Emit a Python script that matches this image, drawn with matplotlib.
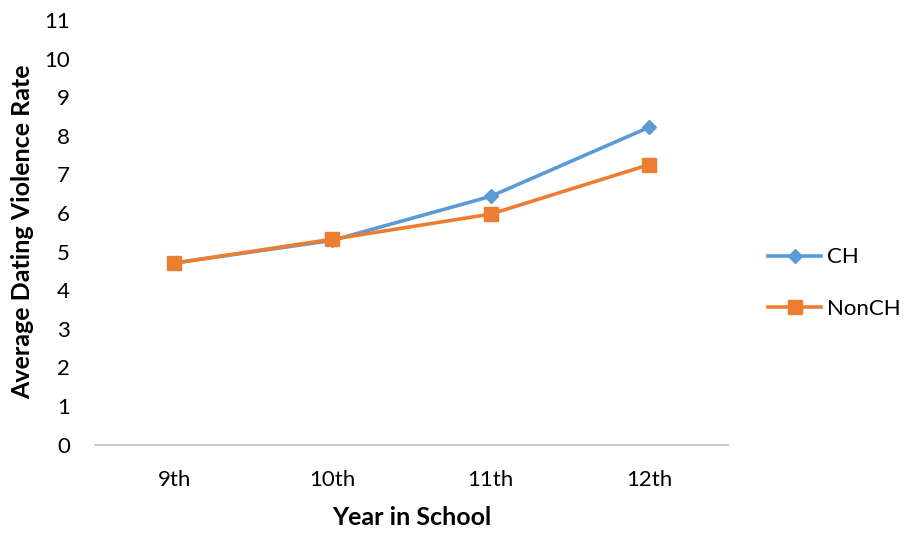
import matplotlib.pyplot as plt

years = ["9th", "10th", "11th", "12th"]
ch = [4.70, 5.29, 6.43, 8.22]
non_ch = [4.70, 5.32, 5.97, 7.25]

plt.rcParams['font.family'] = ['Lato', 'DejaVu Sans']

fig = plt.figure(figsize=(9.09, 5.36), dpi=100)
ax = fig.add_axes([0.1045, 0.1707, 0.6965, 0.792])

x = range(len(years))
ax.plot(x, ch, color='#5B9BD5', lw=2.6, marker='D', markersize=7.5, label='CH')
ax.plot(x, non_ch, color='#ED7D31', lw=2.6, marker='s', markersize=10, label='NonCH')

ax.set_xlim(-0.5, len(years) - 0.5)
ax.set_ylim(0, 11)
ax.set_yticks(range(0, 12))
ax.set_xticks(list(x))
ax.set_xticklabels(years)
ax.tick_params(axis='both', length=0, labelsize=16, colors='#000000')
ax.tick_params(axis='y', pad=18)
ax.tick_params(axis='x', pad=18)

for side in ['top', 'right', 'left']:
    ax.spines[side].set_visible(False)
ax.spines['bottom'].set_color('#BFBFBF')
ax.spines['bottom'].set_linewidth(1.2)

ax.set_xlabel('Year in School', fontsize=18, fontweight='bold', labelpad=12)
ax.set_ylabel('Average Dating Violence Rate', fontsize=18, fontweight='bold', labelpad=7)

fig.legend(*ax.get_legend_handles_labels(), loc='center left',
           bbox_to_anchor=(0.823, 0.472), frameon=False,
           fontsize=16, handlelength=2.4, handletextpad=0.25, labelspacing=1.4)

fig.savefig('out.png', dpi=100)
